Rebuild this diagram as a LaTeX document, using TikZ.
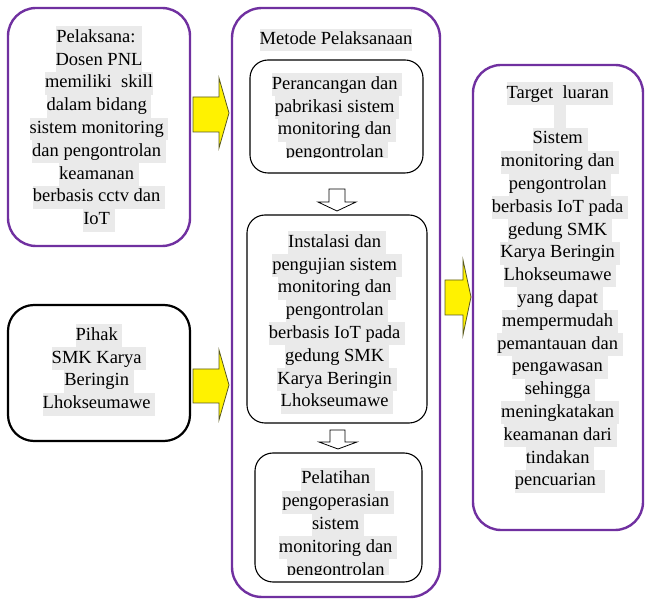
\documentclass[tikz,border=0pt]{standalone}
\usepackage{fontspec}
\setmainfont{Liberation Serif}
\definecolor{wpurple}{HTML}{7030A0}
\definecolor{hlgray}{HTML}{EAEAEA}
\definecolor{yedge}{HTML}{5A5A20}
\newcommand{\hl}[1]{{\setlength{\fboxsep}{0pt}\colorbox{hlgray}{\strut #1}}}
\tikzset{
  pbox/.style={draw=wpurple, line width=2.4pt, rounded corners=28pt, inner sep=0pt},
  kbox/.style={draw=black, line width=2.2pt, rounded corners=26pt, inner sep=0pt},
  ibox/.style={draw=black, line width=1.1pt, rounded corners=18pt, inner sep=0pt},
  txt/.style={align=center, inner sep=0pt, font=\fontsize{18.5}{22.8}\selectfont},
  yarrow/.style={fill=yellow, draw=yedge, line width=0.8pt, line join=miter},
  harrow/.style={fill=white, draw=black, line width=0.8pt, line join=miter}
}
\begin{document}
\begin{tikzpicture}[x=1pt,y=-1pt]
\useasboundingbox (0,0) rectangle (646,601);
% boxes
\node[pbox, minimum width=182pt, minimum height=238pt] (pel) at (99,127) {};
\node[kbox, minimum width=182pt, minimum height=136pt] (pihak) at (99,373) {};
\node[pbox, rounded corners=30pt, minimum width=208pt, minimum height=589pt] (metode) at (336,302.5) {};
\node[ibox, minimum width=173pt, minimum height=113pt] (b1) at (336.5,116.5) {};
\node[ibox, minimum width=180pt, minimum height=208pt] (b2) at (337,319) {};
\node[ibox, minimum width=167pt, minimum height=129pt] (b3) at (338.5,517.5) {};
\node[pbox, minimum width=170pt, minimum height=465pt] (target) at (558,297.5) {};
% texts
\node[txt] (pelT) at (99,129) {\hl{Pelaksana: }\\\hl{Dosen PNL}\\\hl{memiliki\ \ skill}\\\hl{dalam bidang }\\\hl{sistem monitoring }\\\hl{dan pengontrolan }\\\hl{keamanan }\\\hl{berbasis cctv dan }\\\hl{IoT }};
\node[txt] (pihakT) at (99,370) {\hl{Pihak }\\\hl{SMK Karya }\\\hl{Beringin }\\\hl{Lhokseumawe }};
\node[txt] (metodeT) at (336,40) {\hl{Metode Pelaksanaan}};
\begin{scope}
\clip (250,60) rectangle (423,158);
\node[txt] (b1T) at (337,119) {\hl{Perancangan dan }\\\hl{pabrikasi sistem }\\\hl{monitoring dan }\\\hl{pengontrolan }};
\end{scope}
\node[txt] (b2T) at (337,322.5) {\hl{Instalasi dan }\\\hl{pengujian sistem }\\\hl{monitoring dan }\\\hl{pengontrolan }\\\hl{berbasis IoT pada }\\\hl{gedung SMK }\\\hl{Karya Beringin }\\\hl{Lhokseumawe }};
\begin{scope}
\clip (255,453) rectangle (422,575);
\node[txt] (b3T) at (338,525) {\hl{Pelatihan }\\\hl{pengoperasian }\\\hl{sistem }\\\hl{monitoring dan }\\\hl{pengontrolan }};
\end{scope}
\node[txt] (targetT) at (560,287.5) {\hl{Target\ \ luaran\ }\\\hl{\hspace{12pt}}\\\hl{Sistem }\\\hl{monitoring dan }\\\hl{pengontrolan }\\\hl{berbasis IoT pada }\\\hl{gedung SMK }\\\hl{Karya Beringin }\\\hl{Lhokseumawe }\\\hl{yang dapat }\\\hl{mempermudah }\\\hl{pemantauan dan }\\\hl{pengawasan }\\\hl{sehingga }\\\hl{meningkatakan }\\\hl{keamanan dari }\\\hl{tindakan }\\\hl{pencuarian\ \ }};
% yellow block arrows
\draw[yarrow] (193,97) -- (219,97) -- (219,78) -- (229,113) -- (219,148) -- (219,132) -- (193,132) -- cycle;
\draw[yarrow] (193,369) -- (219,369) -- (219,350) -- (229,385) -- (219,420) -- (219,403) -- (193,403) -- cycle;
\draw[yarrow] (445,280) -- (463,280) -- (463,260) -- (471,297) -- (463,335) -- (463,315) -- (445,315) -- cycle;
% hollow down arrows
\draw[harrow] (329,189) -- (345,189) -- (345,202) -- (356,202) -- (337,211) -- (318,202) -- (329,202) -- cycle;
\draw[harrow] (330,430) -- (345,430) -- (345,442) -- (357,442) -- (338,449) -- (319,442) -- (330,442) -- cycle;
\end{tikzpicture}
\end{document}
